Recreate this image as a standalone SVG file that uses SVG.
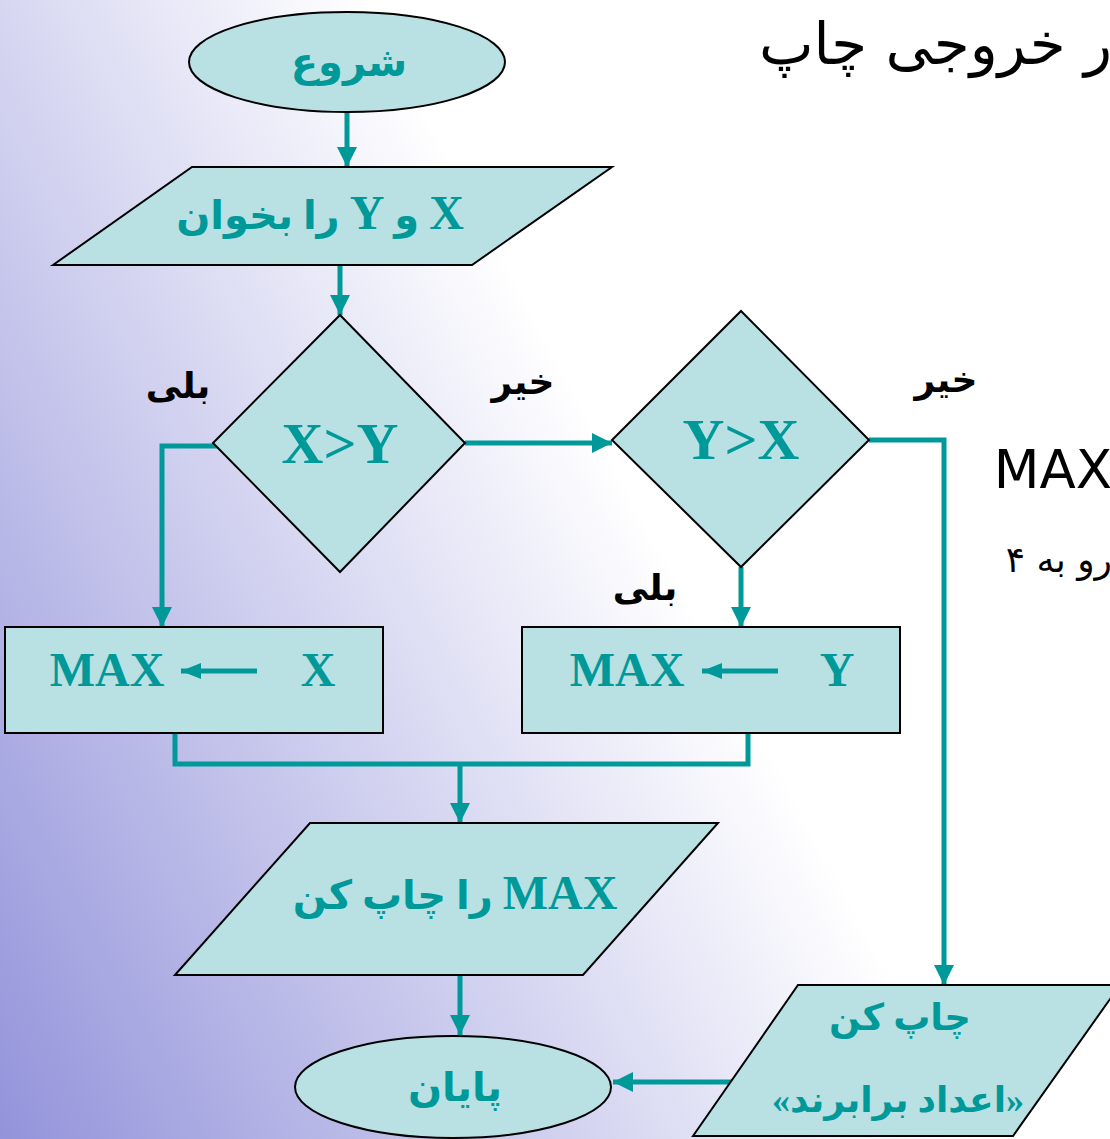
<svg xmlns="http://www.w3.org/2000/svg" width="1110" height="1139" viewBox="0 0 1110 1139">
<defs>
<linearGradient id="bg" gradientUnits="userSpaceOnUse" x1="0" y1="1139" x2="760" y2="730">
<stop offset="0" stop-color="#9393db"/>
<stop offset="1" stop-color="#ffffff"/>
</linearGradient>
<marker id="ah" viewBox="0 0 20 22" refX="20" refY="11" markerWidth="20" markerHeight="22" markerUnits="userSpaceOnUse" orient="auto">
<path d="M0,1 L20,11 L0,21 Z" fill="#009999"/>
</marker>
<marker id="ahs" viewBox="0 0 20 16" refX="20" refY="8" markerWidth="20" markerHeight="16" markerUnits="userSpaceOnUse" orient="auto">
<path d="M0,0 L20,8 L0,16 Z" fill="#009999"/>
</marker>
</defs>
<style>
.shape{fill:#b9e0e3;stroke:#000;stroke-width:2}
.con{fill:none;stroke:#009999;stroke-width:5}
.t{fill:#009999;font-family:"Liberation Serif","DejaVu Sans",serif;font-weight:bold;text-anchor:middle}
.lat{font-size:48px}
.lbl{fill:#000;font-family:"DejaVu Sans","Liberation Serif",sans-serif;font-weight:bold;font-size:36px;text-anchor:middle}
.plain{fill:#000;font-family:"DejaVu Sans","Liberation Sans",sans-serif}
</style>
<rect x="0" y="0" width="1110" height="1139" fill="url(#bg)"/>

<text class="plain" x="1112" y="64" font-size="58" text-anchor="start" direction="rtl">ر خروجی چاپ</text>
<text class="plain" x="1112" y="488" font-size="53" text-anchor="end" font-family="Liberation Sans">MAX</text>
<text class="plain" x="1112" y="572" font-size="36" text-anchor="start" direction="rtl">رو به ۴</text>

<g id="connectors">
<line class="con" x1="347" y1="112" x2="347" y2="167" marker-end="url(#ah)"/>
<line class="con" x1="340" y1="265" x2="340" y2="315" marker-end="url(#ah)"/>
<polyline class="con" points="222,446 162,446 162,627" marker-end="url(#ah)"/>
<line class="con" x1="465" y1="443" x2="612" y2="443" marker-end="url(#ah)"/>
<polyline class="con" points="869,440 944,440 944,985" marker-end="url(#ah)"/>
<line class="con" x1="741" y1="567" x2="741" y2="627" marker-end="url(#ah)"/>
<polyline class="con" points="175,733 175,764 748,764 748,733"/>
<line class="con" x1="460" y1="764" x2="460" y2="823" marker-end="url(#ah)"/>
<line class="con" x1="460" y1="975" x2="460" y2="1035" marker-end="url(#ah)"/>
<line class="con" x1="733" y1="1082" x2="613" y2="1082" marker-end="url(#ah)"/>
</g>

<g id="start">
<ellipse class="shape" cx="347" cy="62" rx="158" ry="50"/>
<text class="t" x="349" y="76" font-size="40">شروع</text>
</g>

<g id="read">
<polygon class="shape" points="53,265 192,167 612,167 472,265"/>
<text class="t" x="320" y="229" font-size="40" direction="rtl"><tspan class="lat">X</tspan> و <tspan class="lat">Y</tspan> را بخوان</text>
</g>

<g id="dec1">
<polygon class="shape" points="340,315 465,443 340,572 213,443"/>
<text class="t" x="340" y="463" font-size="58">X&gt;Y</text>
</g>

<g id="dec2">
<polygon class="shape" points="741,311 869,440 741,567 612,440"/>
<text class="t" x="741" y="459" font-size="58">Y&gt;X</text>
</g>

<g id="labels">
<text class="lbl" x="178" y="398">بلی</text>
<text class="lbl" x="523" y="394">خیر</text>
<text class="lbl" x="946" y="392">خیر</text>
<text class="lbl" x="645" y="600">بلی</text>
</g>

<g id="assign1">
<rect class="shape" x="5" y="627" width="378" height="106"/>
<text class="t" x="107" y="686" font-size="48">MAX</text>
<line class="con" x1="257" y1="671" x2="181" y2="671" marker-end="url(#ahs)"/>
<text class="t" x="318" y="686" font-size="48">X</text>
</g>

<g id="assign2">
<rect class="shape" x="522" y="627" width="378" height="106"/>
<text class="t" x="627" y="686" font-size="48">MAX</text>
<line class="con" x1="778" y1="671" x2="702" y2="671" marker-end="url(#ahs)"/>
<text class="t" x="837" y="686" font-size="48">Y</text>
</g>

<g id="print">
<polygon class="shape" points="175,975 310,823 718,823 583,975"/>
<text class="t" x="455" y="909" font-size="40" direction="rtl"><tspan class="lat">MAX</tspan> را چاپ کن</text>
</g>

<g id="end">
<ellipse class="shape" cx="453" cy="1087" rx="158" ry="51"/>
<text class="t" x="455" y="1101" font-size="40">پایان</text>
</g>

<g id="printeq">
<polygon class="shape" points="693,1136 798,985 1120,985 1013,1136"/>
<text class="t" x="900" y="1030" font-size="37">چاپ کن</text>
<text class="t" x="898" y="1112" font-size="36" direction="rtl">«اعداد برابرند»</text>
</g>
</svg>
